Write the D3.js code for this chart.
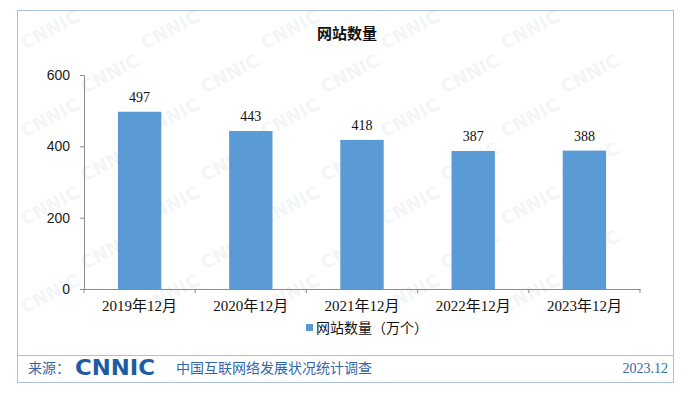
<!DOCTYPE html>
<html>
<head>
<meta charset="utf-8">
<script src="https://cdn.jsdelivr.net/npm/d3@7"></script>
<style>
  body { margin: 0; background: #fff; }
  svg { display: block; }
</style>
</head>
<body>
<div id="chart"></div>
<script>
// Chart data
var categories = ["2019年12月", "2020年12月", "2021年12月", "2022年12月", "2023年12月"];
var values = [497, 443, 418, 387, 388];
var yTicks = [0, 200, 400, 600];
var title = "网站数量";
var legendLabel = "网站数量（万个）";

var svgWidth = 693, svgHeight = 396;
var margin = { top: 75, right: 53, bottom: 107, left: 84 };
var chartWidth = svgWidth - margin.left - margin.right;
var chartHeight = svgHeight - margin.top - margin.bottom;

var numFont = "'Liberation Serif', 'Noto Sans CJK SC', serif";
var cjkFont = "'Noto Sans CJK SC', sans-serif";

var svg = d3.select("#chart").append("svg")
    .attr("width", svgWidth)
    .attr("height", svgHeight);

// Faint watermark, kept inside the frame
var wm = svg.append("g");
for (var r = 0; r < 8; r++) {
    for (var c = 0; c < 6; c++) {
        var wx = c * 120 + (r % 2) * 60 + 25;
        var wy = r * 44 + 50;
        if (wx > 600 || wy > 350) continue;
        wm.append("text")
            .attr("transform", "translate(" + wx + "," + wy + ") rotate(-28)")
            .attr("font-family", "'DejaVu Sans', sans-serif")
            .attr("font-weight", "bold")
            .attr("font-size", 18)
            .attr("fill", "#f4f5f7")
            .text("CNNIC");
    }
}

// Frame and footer line
svg.append("rect")
    .attr("x", 17.5).attr("y", 10.5)
    .attr("width", 656).attr("height", 372)
    .attr("fill", "none")
    .attr("stroke", "#a9c1dc")
    .attr("stroke-width", 1);
svg.append("line")
    .attr("x1", 17.5).attr("x2", 673.5)
    .attr("y1", 355.5).attr("y2", 355.5)
    .attr("stroke", "#a9c1dc");

// Title
svg.append("text")
    .attr("x", 347).attr("y", 39)
    .attr("text-anchor", "middle")
    .attr("font-family", cjkFont)
    .attr("font-weight", "bold")
    .attr("font-size", 15)
    .attr("fill", "#111")
    .text(title);

var chartGroup = svg.append("g")
    .attr("transform", "translate(" + margin.left + "," + margin.top + ")");

var x = d3.scaleBand().domain(categories).range([0, chartWidth]).padding(0);
var y = d3.scaleLinear().domain([0, 600]).range([chartHeight, 0]);
var barW = x.bandwidth() * 0.39;

// Y axis
var yAxis = chartGroup.append("g")
    .call(d3.axisLeft(y).tickValues(yTicks).tickSize(4).tickPadding(10));
yAxis.select(".domain").attr("stroke", "#8c8c8c");
yAxis.selectAll(".tick line").attr("stroke", "#8c8c8c");
yAxis.selectAll(".tick text")
    .attr("font-family", "'Liberation Sans', sans-serif")
    .attr("font-size", 14)
    .attr("fill", "#222");

// X axis
var xAxis = chartGroup.append("g")
    .attr("transform", "translate(0," + chartHeight + ")")
    .call(d3.axisBottom(x).tickSize(0).tickPadding(11));
xAxis.select(".domain").attr("stroke", "#8c8c8c");
xAxis.selectAll(".tick text")
    .attr("font-family", numFont)
    .attr("font-size", 15)
    .attr("fill", "#111");
// Boundary ticks between categories
var bounds = d3.range(categories.length + 1).map(function(i) { return i * x.step(); });
xAxis.selectAll(".bound")
    .data(bounds)
    .enter().append("line")
    .attr("x1", function(d) { return d; })
    .attr("x2", function(d) { return d; })
    .attr("y1", 0).attr("y2", 4)
    .attr("stroke", "#8c8c8c");

// Bars
chartGroup.selectAll(".bar")
    .data(values)
    .enter().append("rect")
    .attr("x", function(d, i) { return x(categories[i]) + (x.bandwidth() - barW) / 2; })
    .attr("y", function(d) { return y(d); })
    .attr("width", barW)
    .attr("height", function(d) { return chartHeight - y(d); })
    .attr("fill", "#5b9bd5");

// Value labels
chartGroup.selectAll(".val")
    .data(values)
    .enter().append("text")
    .attr("x", function(d, i) { return x(categories[i]) + x.bandwidth() / 2; })
    .attr("y", function(d) { return y(d) - 10; })
    .attr("text-anchor", "middle")
    .attr("font-family", numFont)
    .attr("font-size", 14)
    .attr("fill", "#111")
    .text(function(d) { return d; });

// Legend
var legend = svg.append("g").attr("transform", "translate(306,328)");
legend.append("rect")
    .attr("x", 0).attr("y", -4)
    .attr("width", 7).attr("height", 7)
    .attr("fill", "#5b9bd5");
legend.append("text")
    .attr("x", 10).attr("y", 5)
    .attr("font-family", cjkFont)
    .attr("font-size", 14)
    .attr("fill", "#111")
    .text(legendLabel);

// Footer
var footBlue = "#3567a8";
svg.append("text")
    .attr("x", 28).attr("y", 373)
    .attr("font-family", cjkFont)
    .attr("font-size", 14)
    .attr("fill", footBlue)
    .text("来源：");
svg.append("text")
    .attr("x", 75).attr("y", 375)
    .attr("font-family", "'DejaVu Sans', sans-serif")
    .attr("font-weight", "bold")
    .attr("font-size", 22)
    .attr("textLength", 80)
    .attr("lengthAdjust", "spacingAndGlyphs")
    .attr("fill", "#1e5aa6")
    .text("CNNIC");
svg.append("text")
    .attr("x", 176).attr("y", 373)
    .attr("font-family", cjkFont)
    .attr("font-size", 14)
    .attr("fill", footBlue)
    .text("中国互联网络发展状况统计调查");
svg.append("text")
    .attr("x", 668).attr("y", 373)
    .attr("text-anchor", "end")
    .attr("font-family", numFont)
    .attr("font-size", 14)
    .attr("fill", footBlue)
    .text("2023.12");
</script>
</body>
</html>
